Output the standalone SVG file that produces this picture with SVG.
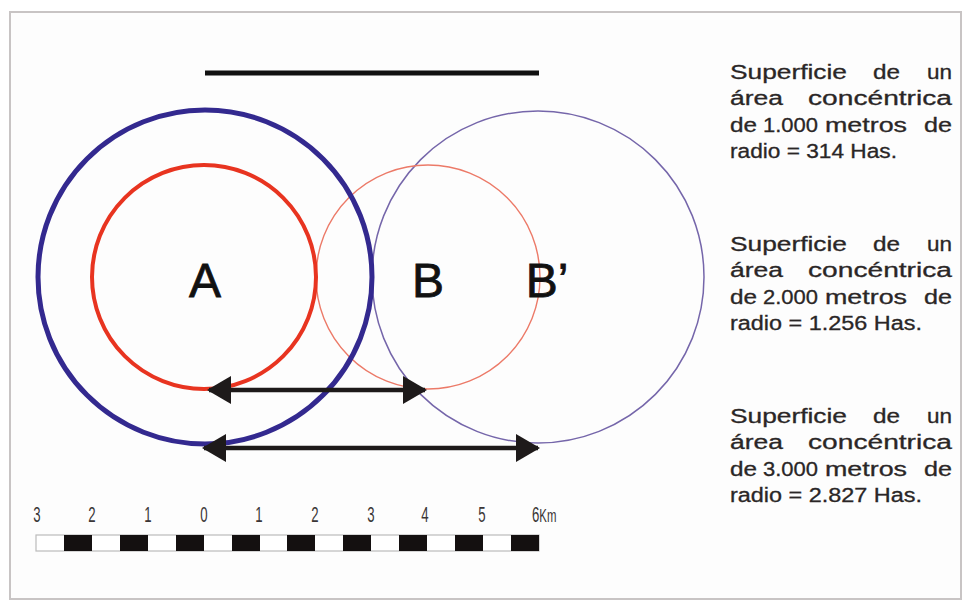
<svg xmlns="http://www.w3.org/2000/svg" width="965" height="603" viewBox="0 0 965 603">
<defs>
<style>
.frame{fill:#fdfdfd;stroke:#c8c4c4;stroke-width:2}
.thickblue{fill:none;stroke:#33298f;stroke-width:5}
.thickred{fill:none;stroke:#e83420;stroke-width:4}
.thinred{fill:none;stroke:#ec7a68;stroke-width:1.4}
.thinblue{fill:none;stroke:#7566aa;stroke-width:1.5}
.arrow{stroke:#1e1a1a;stroke-width:4.5;fill:none}
.big{font-family:"Liberation Sans",Arial,sans-serif;font-size:48px;fill:#111;stroke:#111;stroke-width:0.8;text-anchor:middle}
.desc{font-family:"Liberation Sans",Arial,sans-serif;font-size:20px;fill:#2a2626;stroke:#2a2626;stroke-width:0.3}
.num{font-family:"Liberation Sans",Arial,sans-serif;font-size:22px;fill:#3a3636;text-anchor:middle}
</style>
<marker id="ah" viewBox="0 0 24 28" refX="22" refY="14" markerWidth="24" markerHeight="28" markerUnits="userSpaceOnUse" orient="auto-start-reverse">
<path d="M0,0 L24,14 L0,28 Z" fill="#1e1a1a"/>
</marker>
</defs>
<rect class="frame" x="10" y="12" width="951" height="587"/>
<g id="topline"><line x1="205" y1="73" x2="539" y2="73" stroke="#111" stroke-width="5"/></g>
<g id="circleB2"><circle class="thinblue" cx="538" cy="277" r="166"/></g>
<g id="circleB"><circle class="thinred" cx="428" cy="277" r="112"/></g>
<g id="circleA3"><circle class="thickblue" cx="205" cy="277" r="167"/></g>
<g id="circleA"><circle class="thickred" cx="204" cy="277" r="112"/></g>
<g id="labelA"><text class="big" x="205" y="297">A</text></g>
<g id="labelB"><text class="big" x="428" y="297">B</text></g>
<g id="labelB2"><text class="big" x="547" y="297">B’</text></g>
<g id="connectors">
<line class="arrow" x1="209" y1="390" x2="425" y2="390" marker-start="url(#ah)" marker-end="url(#ah)"/>
<line class="arrow" x1="204" y1="448" x2="538" y2="448" marker-start="url(#ah)" marker-end="url(#ah)"/>
</g>
<g id="text1" class="desc">
<text x="730" y="79" textLength="117" lengthAdjust="spacingAndGlyphs">Superficie</text>
<text x="873" y="79" textLength="27" lengthAdjust="spacingAndGlyphs">de</text>
<text x="927" y="79" textLength="25" lengthAdjust="spacingAndGlyphs">un</text>
<text x="730" y="105" textLength="53" lengthAdjust="spacingAndGlyphs">área</text>
<text x="808" y="105" textLength="144" lengthAdjust="spacingAndGlyphs">concéntrica</text>
<text x="730" y="132" textLength="27" lengthAdjust="spacingAndGlyphs">de</text>
<text x="763" y="132" textLength="55" lengthAdjust="spacingAndGlyphs">1.000</text>
<text x="825" y="132" textLength="82" lengthAdjust="spacingAndGlyphs">metros</text>
<text x="924" y="132" textLength="28" lengthAdjust="spacingAndGlyphs">de</text>
<text x="730" y="158" textLength="167" lengthAdjust="spacingAndGlyphs">radio = 314 Has.</text>
</g>
<g id="text2" class="desc">
<text x="730" y="251" textLength="117" lengthAdjust="spacingAndGlyphs">Superficie</text>
<text x="873" y="251" textLength="27" lengthAdjust="spacingAndGlyphs">de</text>
<text x="927" y="251" textLength="25" lengthAdjust="spacingAndGlyphs">un</text>
<text x="730" y="277" textLength="53" lengthAdjust="spacingAndGlyphs">área</text>
<text x="808" y="277" textLength="144" lengthAdjust="spacingAndGlyphs">concéntrica</text>
<text x="730" y="304" textLength="27" lengthAdjust="spacingAndGlyphs">de</text>
<text x="763" y="304" textLength="55" lengthAdjust="spacingAndGlyphs">2.000</text>
<text x="825" y="304" textLength="82" lengthAdjust="spacingAndGlyphs">metros</text>
<text x="924" y="304" textLength="28" lengthAdjust="spacingAndGlyphs">de</text>
<text x="730" y="330" textLength="192" lengthAdjust="spacingAndGlyphs">radio = 1.256 Has.</text>
</g>
<g id="text3" class="desc">
<text x="730" y="423" textLength="117" lengthAdjust="spacingAndGlyphs">Superficie</text>
<text x="873" y="423" textLength="27" lengthAdjust="spacingAndGlyphs">de</text>
<text x="927" y="423" textLength="25" lengthAdjust="spacingAndGlyphs">un</text>
<text x="730" y="449" textLength="53" lengthAdjust="spacingAndGlyphs">área</text>
<text x="808" y="449" textLength="144" lengthAdjust="spacingAndGlyphs">concéntrica</text>
<text x="730" y="476" textLength="27" lengthAdjust="spacingAndGlyphs">de</text>
<text x="763" y="476" textLength="55" lengthAdjust="spacingAndGlyphs">3.000</text>
<text x="825" y="476" textLength="82" lengthAdjust="spacingAndGlyphs">metros</text>
<text x="924" y="476" textLength="28" lengthAdjust="spacingAndGlyphs">de</text>
<text x="730" y="502" textLength="192" lengthAdjust="spacingAndGlyphs">radio = 2.827 Has.</text>
</g>
<g id="scale">
<rect x="36" y="535" width="503" height="16" fill="#fff" stroke="#bbb" stroke-width="1.2"/>
<g fill="#141010">
<rect x="64" y="535" width="28" height="16"/>
<rect x="120" y="535" width="28" height="16"/>
<rect x="176" y="535" width="28" height="16"/>
<rect x="232" y="535" width="28" height="16"/>
<rect x="287" y="535" width="28" height="16"/>
<rect x="343" y="535" width="28" height="16"/>
<rect x="399" y="535" width="28" height="16"/>
<rect x="455" y="535" width="28" height="16"/>
<rect x="511" y="535" width="28" height="16"/>
</g>
<g class="num">
<text transform="translate(37,522) scale(0.6,1)">3</text>
<text transform="translate(92,522) scale(0.6,1)">2</text>
<text transform="translate(148,522) scale(0.6,1)">1</text>
<text transform="translate(204,522) scale(0.6,1)">0</text>
<text transform="translate(259,522) scale(0.6,1)">1</text>
<text transform="translate(315,522) scale(0.6,1)">2</text>
<text transform="translate(371,522) scale(0.6,1)">3</text>
<text transform="translate(425,522) scale(0.6,1)">4</text>
<text transform="translate(482,522) scale(0.6,1)">5</text>
<text transform="translate(532,522) scale(0.6,1)" text-anchor="start">6<tspan font-size="19px">Km</tspan></text>
</g>
</g>
</svg>
